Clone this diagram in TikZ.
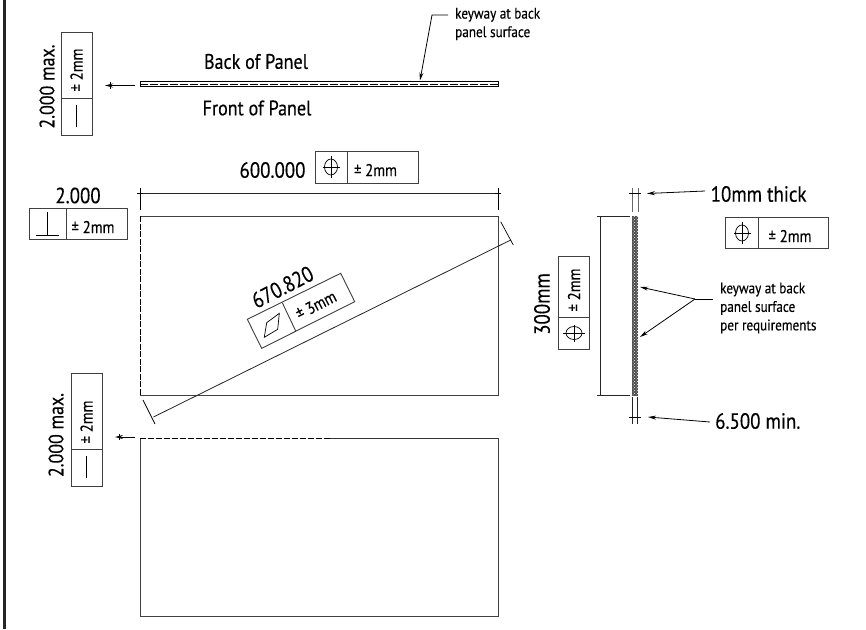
\documentclass[tikz,border=0pt]{standalone}
\usepackage{fontspec}
\setmainfont[FakeStretch=0.86,FakeBold=0.3]{PT Sans}
\usetikzlibrary{arrows.meta,patterns}
\tikzset{
  x=1pt,y=-1pt,
  ln/.style={line width=0.8pt,draw=black!85},
  fr/.style={line width=0.9pt,draw=black!75},
  big/.style={inner sep=0pt,font=\fontsize{22}{22}\selectfont},
  bigmax/.style={inner sep=0pt,font=\fontsize{20.8}{21}\selectfont},
  mid/.style={inner sep=0pt,font=\fontsize{21}{21}\selectfont},
  sml/.style={inner sep=0pt,font=\fontsize{17}{17}\selectfont},
  note/.style={inner sep=0pt,align=left,anchor=west,font=\fontsize{15.3}{18.5}\selectfont},
  tip/.style={-{Stealth[length=8pt,width=4pt]},line width=0.8pt},
  sym/.style={line width=0.7pt,draw=black},
}
\newcommand{\posn}[2]{% centre of position symbol
  \draw[sym] (#1,#2) ellipse (6.5 and 8);
  \draw[sym] (#1-8.5,#2)--(#1+8.5,#2) (#1,#2-11)--(#1,#2+11);}
\newcommand{\posr}[2]{% rotated position symbol
  \draw[sym] (#1,#2) ellipse (8 and 6.5);
  \draw[sym] (#1,#2-8.5)--(#1,#2+8.5) (#1-11,#2)--(#1+11,#2);}
\begin{document}
\begin{tikzpicture}
\useasboundingbox (0,0) rectangle (866,629);
\fill[white] (0,0) rectangle (866,629);
% frame
\draw[line width=2.4pt,black!85] (4.5,0)--(4.5,629);

% top edge view
\draw[line width=0.9pt,black] (140,81) rectangle (498,86);
\draw[line width=1pt,black,dash pattern=on 8pt off 2pt] (140,84)--(498,84);
\node[mid] (back) at (256,61.5) {Back of Panel};
\node[mid] (front) at (257,108) {Front of Panel};
\coordinate (topEdge) at (135,85.5);
\coordinate (topTip) at (105,85.5);
\draw[tip] (topEdge)--(topTip);
\draw[line width=0.7pt] (110,82)--(110,89);
\draw[fr] (61,32) rectangle (92,135);
\draw[fr] (61,98)--(92,98);
\draw[sym] (76.5,105)--(76.5,127);
\node[sml,rotate=90] (tolA) at (76.5,70) {± 2mm};
\node[bigmax,rotate=90] (maxA) at (47,86.5) {2.000 max.};

% keyway leader, top
\node[note] (keyTop) at (455,24) {keyway at back\\panel surface};
\coordinate (keyTopA) at (448,15);
\coordinate (keyTopB) at (432,15);
\coordinate (keyTopC) at (420,80.5);
\draw[tip] (keyTopA)--(keyTopB)--(keyTopC);

% 600 dimension
\coordinate (dimL) at (140,193.5);
\coordinate (dimR) at (498,193.5);
\draw[ln] (dimL)--(dimR);
\draw[line width=1pt] (140,188)--(140,210);
\draw[line width=0.8pt] (498,188)--(498,210);
\draw[line width=0.7pt] (137,193.5)--(143,193.5) (495,193.5)--(501,193.5);
\node[big] (dim600) at (272.5,170) {600.000};
\draw[fr] (315,151.5) rectangle (418,183);
\draw[fr] (347,151.5)--(347,183);
\posn{331}{167}
\node[sml] (tolB) at (375.5,170) {± 2mm};

% perpendicularity
\node[big] (perpVal) at (78,195.5) {2.000};
\draw[fr] (29,208) rectangle (127,239);
\draw[fr] (66,208)--(66,239);
\draw[sym] (36,235)--(59,235) (47.5,212)--(47.5,235);
\node[sml] (tolC) at (93,227) {± 2mm};

% main face
\draw[fr] (140,216)--(498,216)--(498,395)--(140,395);
\draw[line width=0.9pt,black,dash pattern=on 6pt off 1.5pt] (140,216)--(140,395);

% diagonal
\coordinate (diagA) at (153.5,417);
\coordinate (diagB) at (510.7,240);
\draw[ln] (diagA)--(diagB);
\draw[line width=0.7pt] (143,400)--(155,424);
\draw[line width=0.7pt] (500.7,221.7)--(513.3,245);
\node[big,rotate=27] (diagVal) at (282.5,287) {670.820};
\draw[fr] (247.3,319.3)--(340.7,273.3)--(354.7,301.7)--(261.7,348.3)--cycle;
\draw[fr] (282.3,302.7)--(295.7,331);
\draw[sym] (266.7,322.7)--(279.3,313.3)--(277.7,329.3)--(264.3,337.3)--cycle;
\node[sml,rotate=27] (tolD) at (316,305) {± 3mm};

% bottom view
\draw[fr] (140,438)--(140,616)--(498,616)--(498,438);
\draw[line width=0.9pt,black,dash pattern=on 6pt off 2pt] (140,438)--(330,438);
\draw[line width=0.8pt,black!80] (330,438)--(498,438);
\coordinate (botEdge) at (135,437);
\coordinate (botTip) at (115,437);
\draw[tip] (botEdge)--(botTip);
\draw[line width=0.7pt] (119.5,434)--(119.5,440);
\draw[fr] (71,373) rectangle (102,486);
\draw[fr] (71,449)--(102,449);
\draw[sym] (86.5,456)--(86.5,478);
\node[sml,rotate=90] (tolE) at (86.5,422) {± 2mm};
\node[bigmax,rotate=90] (maxB) at (56,435) {2.000 max.};

% side view
\fill[black!70] (631.5,216) rectangle (638,396);
\fill[pattern=crosshatch dots,pattern color=white] (631.5,216) rectangle (638,396);
\draw[line width=1pt,black!60] (632,188)--(632,212) (638,188)--(638,212);
\draw[line width=1pt,black!85] (632,397)--(632,424) (637,397)--(637,424);
\draw[line width=0.7pt] (629,193.5)--(641,193.5) (629,417)--(641,417);

\node[big,anchor=west] (thick) at (710.5,194) {10mm thick};
\coordinate (thickA) at (705,191);
\coordinate (thickB) at (647,193.5);
\draw[tip] (thickA)--(thickB);
\draw[fr] (725,217) rectangle (828,248);
\draw[fr] (758,217)--(758,248);
\posn{742}{233}
\node[sml] (tolF) at (790,236) {± 2mm};

% 300 dimension
\draw[ln] (597,216)--(630,216) (597,395)--(630,395);
\coordinate (hA) at (600.5,216);
\coordinate (hB) at (600.5,395);
\draw[ln] (hA)--(hB);
\node[big,rotate=90] (h300) at (542,304) {300mm};
\draw[fr] (558,256) rectangle (589,349);
\draw[fr] (558,317)--(589,317);
\posr{574}{333}
\node[sml,rotate=90] (tolG) at (574,290) {± 2mm};

% keyway leader, side
\node[note] (keySide) at (720,308) {keyway at back\\panel surface\\per requirements};
\coordinate (ksA) at (713,299);
\coordinate (ksB) at (695,299);
\coordinate (ksC) at (640,287);
\coordinate (ksD) at (640,337);
\draw[line width=0.8pt] (ksA)--(ksB);
\draw[tip] (ksB)--(ksC);
\draw[tip] (ksB)--(ksD);

% 6.5 min
\node[big,anchor=west] (minV) at (715,421) {6.500 min.};
\coordinate (minA) at (710,422);
\coordinate (minB) at (648,417);
\draw[tip] (minA)--(minB);
\end{tikzpicture}
\end{document}
